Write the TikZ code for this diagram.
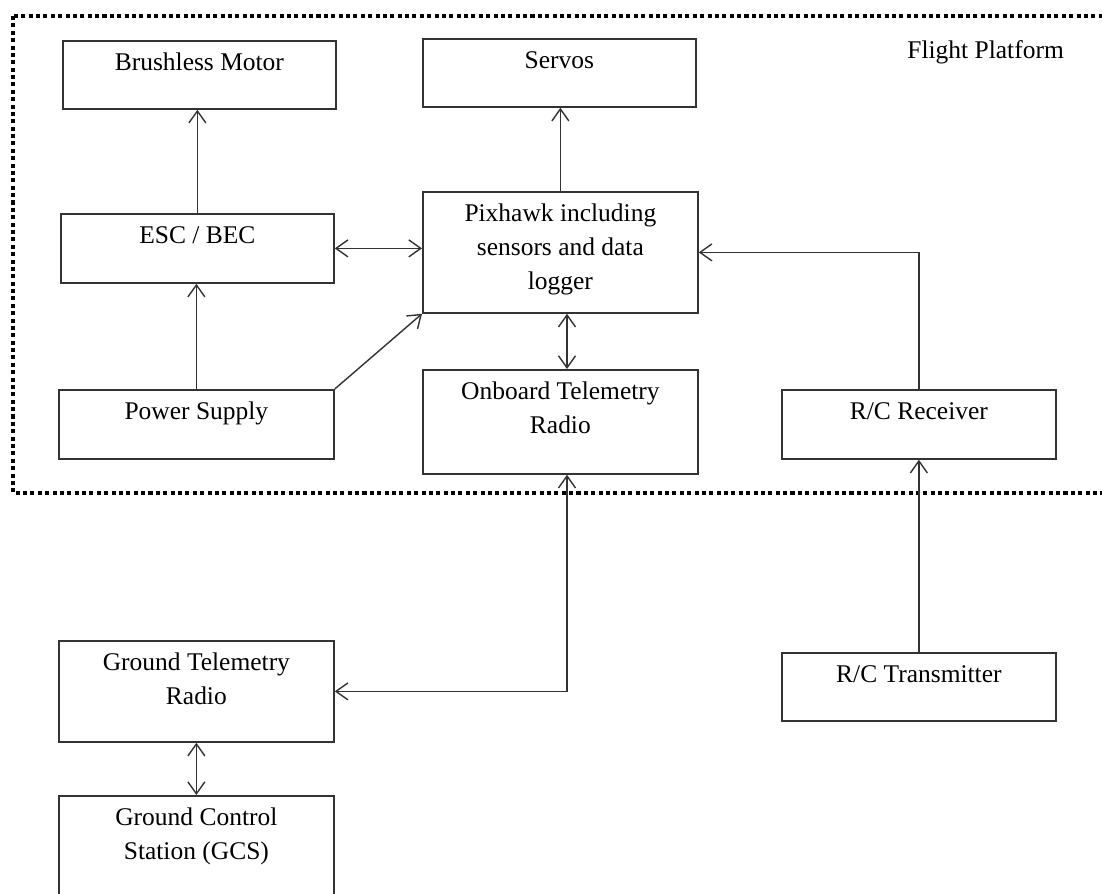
\documentclass[tikz,border=0pt]{standalone}
\usepackage{fontspec}
\setmainfont{Liberation Serif}
\usepackage{tikz}
\usetikzlibrary{arrows.meta,calc}

\newlength\px
\setlength\px{0.02cm}
% box text, set near the top of the box
\newcommand\blktext[3]{\parbox[t][#2\px][t]{#1\px}{\centering\vspace*{3pt}\strut #3}}

\begin{document}
\begin{tikzpicture}[x=0.02cm, y=-0.02cm,
    >={Straight Barb[length=2.4mm,width=3.4mm]},
    blk/.style={draw=black!80, line width=1pt, inner sep=0pt, anchor=north west,
        font=\fontsize{14.5}{19.5}\selectfont},
    link/.style={draw=black!80, line width=0.8pt}]
    \useasboundingbox (0,0) rectangle (1102,893);
    \clip (0,0) rectangle (1102,893);

    % Flight platform frame
    \draw[line width=2.3pt, dash pattern=on 2.3pt off 1.9pt] (13,16) rectangle (1125,493);
    \node[font=\fontsize{14.5}{19.5}\selectfont, anchor=east] (fp) at (1070,52) {Flight Platform};

    \begin{scope} % Blocks
        \node[blk] (motor) at (62,40) {\blktext{273}{68}{Brushless Motor}};
        \node[blk] (servos) at (422,38) {\blktext{273}{68}{Servos}};
        \node[blk] (esc) at (60,213) {\blktext{273}{69}{ESC / BEC}};
        \node[blk] (pix) at (422,191) {\blktext{275}{121}{Pixhawk including\\sensors and data\\logger}};
        \node[blk] (power) at (58,389) {\blktext{275}{69}{Power Supply}};
        \node[blk] (onboard) at (422,369) {\blktext{275}{104}{Onboard Telemetry\\Radio}};
        \node[blk] (rcrx) at (781,389) {\blktext{274}{69}{R/C Receiver}};
        \node[blk] (ground) at (58,640) {\blktext{275}{101}{Ground Telemetry\\Radio}};
        \node[blk] (rctx) at (781,652) {\blktext{274}{68}{R/C Transmitter}};
        \node[blk] (gcs) at (58,795) {\blktext{275}{120}{Ground Control\\Station (GCS)}};
    \end{scope}

    \begin{scope} % Links
        \coordinate (tm) at (567,0);
        \draw[link,->] (esc.north) -- (esc.north |- motor.south);
        \draw[link,->] (pix.north) -- (pix.north |- servos.south);
        \draw[link,<->] (esc.east) -- (esc.east -| pix.west);
        \draw[link,->] (power.north) -- (power.north |- esc.south);
        \draw[link,->] (power.north east) -- (pix.south west);
        \draw[link,<->] (pix.south -| tm) -- (onboard.north -| tm);
        \draw[link,<->] (onboard.south -| tm) |- (ground.east);
        \draw[link,<->] (ground.south) -- (gcs.north);
        \draw[link,->] (rctx.north) -- (rcrx.south);
        \draw[link,->] (rcrx.north) |- (pix.east);
    \end{scope}
\end{tikzpicture}
\end{document}
